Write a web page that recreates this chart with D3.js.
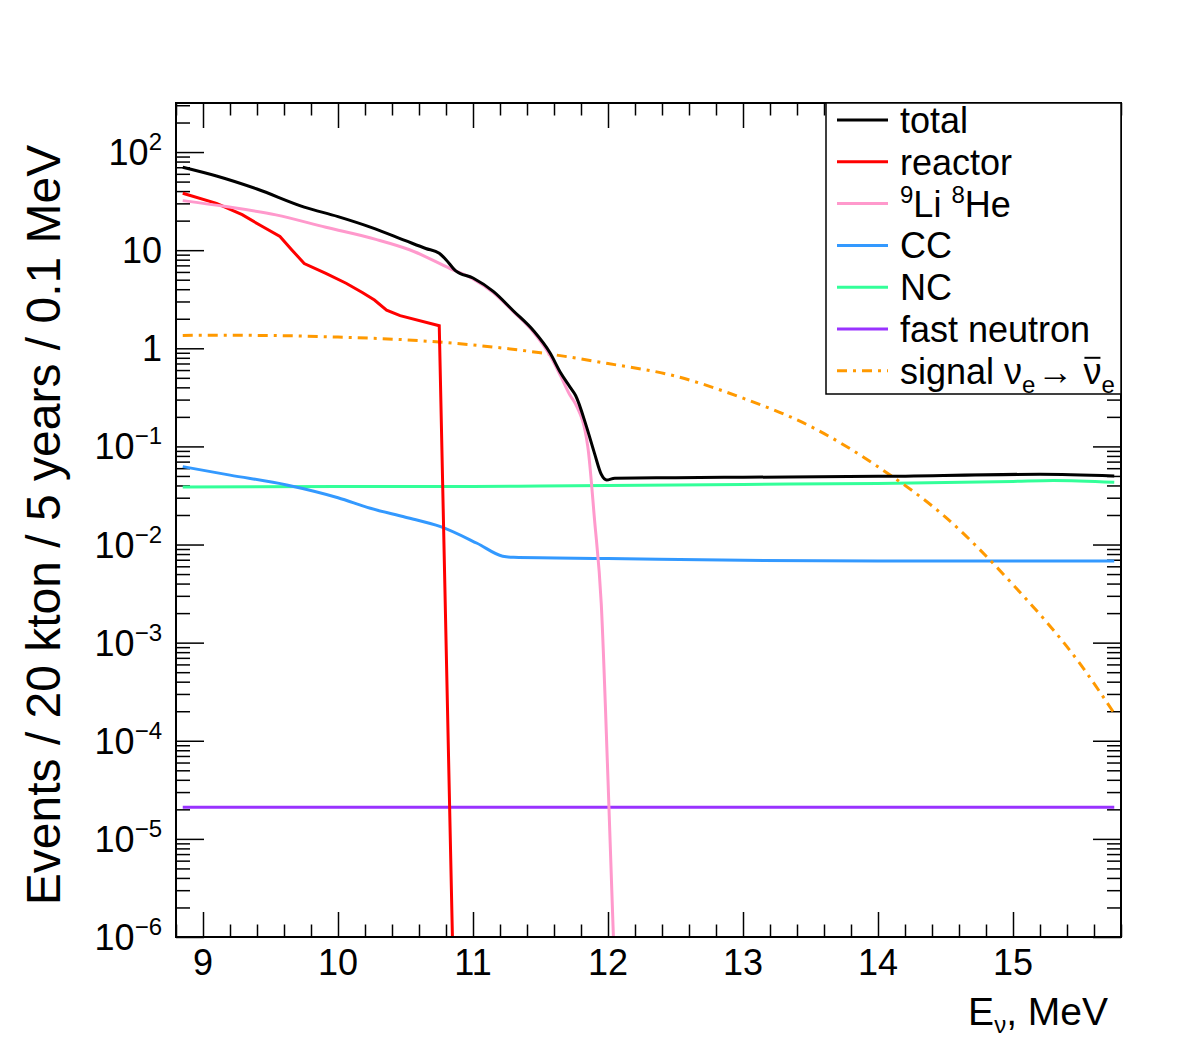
<!DOCTYPE html>
<html>
<head>
<meta charset="utf-8">
<script src="https://cdn.jsdelivr.net/npm/d3@7"></script>
<style>
  body { margin: 0; background: #fff; }
  text { font-family: "Liberation Sans", Arial, Helvetica, sans-serif; fill: #000; }
</style>
</head>
<body>
<div class="chart"></div>
<script>
// energy (MeV), events per bin
let total = [[8.85,70],[9.1,57],[9.4,42],[9.75,27.5],[10.0,22],[10.25,17],[10.5,12.5],[10.65,10.4],
  [10.75,9.3],[10.8,8.0],[10.87,6.2],[11.0,5.2],[11.15,3.8],[11.3,2.4],[11.45,1.5],[11.57,0.9],
  [11.65,0.56],[11.72,0.40],[11.76,0.33],[11.84,0.16],[11.9,0.085],[11.95,0.052],[11.99,0.0455],
  [12.05,0.0475],[12.5,0.048],[13.0,0.0485],[14.0,0.0495],[15.2,0.052],[15.75,0.050]]
let reactor = [[8.85,38],[9.1,30],[9.29,23],[9.44,17.4],[9.57,13.8],[9.66,10],[9.75,7.3],[9.91,5.8],
  [10.06,4.6],[10.18,3.7],[10.27,3.1],[10.36,2.45],[10.46,2.15],[10.75,1.7],[10.85,7e-7]]
let lihe = [[8.85,32],[9.17,27.8],[9.54,22.9],[9.91,17.1],[10.28,12.9],[10.53,10.1],[10.83,6.5],
  [11.0,5.1],[11.15,3.7],[11.3,2.35],[11.45,1.45],[11.57,0.85],[11.65,0.52],[11.72,0.33],[11.76,0.27],
  [11.85,0.1],[11.9,0.018],[11.95,2.5e-3],[12.0,4e-5],[12.05,4e-7]]
let cc = [[8.85,0.0622],[9.2,0.051],[9.62,0.0405],[10.0,0.030],[10.24,0.0234],[10.5,0.019],[10.76,0.0152],
  [11.03,0.0103],[11.22,0.0076],[11.3,0.0074],[12.0,0.0072],[13.0,0.0069],[14.0,0.0068],[15.75,0.0068]]
let nc = [[8.85,0.0385],[10.0,0.039],[11.0,0.039],[11.5,0.0395],[12.0,0.040],[13.0,0.041],[14.0,0.042],
  [15.0,0.044],[15.3,0.045],[15.75,0.043]]
let fastn = [[8.85,2.1e-5],[15.75,2.1e-5]]
let signal = [[8.85,1.35],[9.0,1.36],[9.5,1.35],[10.0,1.30],[10.5,1.22],[11.0,1.08],[11.5,0.90],[12.0,0.70],
  [12.5,0.52],[13.0,0.31],[13.5,0.16],[14.0,0.062],[14.5,0.019],[15.0,3.9e-3],[15.5,6.0e-4],[15.75,1.9e-4]]

let xMajor = [9, 10, 11, 12, 13, 14, 15]
let yDecades = [-6, -5, -4, -3, -2, -1, 0, 1, 2]
let yLabels = ['10|−6', '10|−5', '10|−4', '10|−3', '10|−2', '10|−1', '1', '10', '10|2']

let width = 1182
let height = 1044
let pLeft = 176, pRight = 1121, pTop = 103, pBottom = 937

let xScale = d3.scaleLinear().domain([8.8, 15.8]).range([pLeft, pRight])
let yScale = d3.scaleLog().domain([1e-6, 316.2]).range([pBottom, pTop])

let xMinor = d3.range(8.8, 15.81, 0.2).map(d => +d.toFixed(1)).filter(d => !xMajor.includes(d))
let yMajor = yDecades.map(e => Math.pow(10, e))
let yMinor = []
yDecades.forEach(e => {
  for (let k = 2; k <= 9; k++) {
    let v = k * Math.pow(10, e)
    if (v <= 316.2) yMinor.push(v)
  }
})

let svg = d3.select('.chart').append('svg')
  .attr('width', width).attr('height', height)

svg.append('defs').append('clipPath').attr('id', 'plotclip')
  .append('rect').attr('x', pLeft).attr('y', pTop).attr('width', pRight - pLeft).attr('height', pBottom - pTop)

// axes: ticks on all four sides, pointing inward
function tickAxis(axis, transform, w) {
  let g = svg.append('g').attr('transform', transform).call(axis)
  g.select('.domain').remove()
  g.selectAll('.tick line').attr('stroke', '#000').attr('stroke-width', w)
  g.selectAll('.tick text').remove()
}
tickAxis(d3.axisBottom(xScale).tickValues(xMajor).tickSize(-25), `translate(0,${pBottom})`, 1.5)
tickAxis(d3.axisBottom(xScale).tickValues(xMinor).tickSize(-12.5), `translate(0,${pBottom})`, 1.5)
tickAxis(d3.axisTop(xScale).tickValues(xMajor).tickSize(-25), `translate(0,${pTop})`, 1.5)
tickAxis(d3.axisTop(xScale).tickValues(xMinor).tickSize(-12.5), `translate(0,${pTop})`, 1.5)
tickAxis(d3.axisLeft(yScale).tickValues(yMajor).tickSize(-28), `translate(${pLeft},0)`, 1.5)
tickAxis(d3.axisLeft(yScale).tickValues(yMinor).tickSize(-14), `translate(${pLeft},0)`, 1.5)
tickAxis(d3.axisRight(yScale).tickValues(yMajor).tickSize(-28), `translate(${pRight},0)`, 1.5)
tickAxis(d3.axisRight(yScale).tickValues(yMinor).tickSize(-14), `translate(${pRight},0)`, 1.5)

// x tick labels
xMajor.forEach(d => {
  svg.append('text')
    .attr('x', xScale(d)).attr('y', 975)
    .attr('text-anchor', 'middle').attr('font-size', 36)
    .text(d)
})

// y tick labels
yDecades.forEach((e, i) => {
  let parts = yLabels[i].split('|')
  let t = svg.append('text')
    .attr('x', 162).attr('y', yScale(Math.pow(10, e)) + 13)
    .attr('text-anchor', 'end').attr('font-size', 36)
  t.append('tspan').text(parts[0])
  if (parts[1]) {
    t.append('tspan').attr('dy', -15).attr('font-size', 24).text(parts[1])
  }
})

// curves
let line = d3.line()
  .x(d => xScale(d[0]))
  .y(d => yScale(d[1]))

let plot = svg.append('g').attr('clip-path', 'url(#plotclip)')

let series = [
  { name: 'nc', data: nc, color: '#33ff99', curve: d3.curveMonotoneX },
  { name: 'cc', data: cc, color: '#3399ff', curve: d3.curveMonotoneX },
  { name: 'fast', data: fastn, color: '#9933ff', curve: d3.curveLinear },
  { name: 'signal', data: signal, color: '#ff9900', curve: d3.curveMonotoneX, dash: '10 6 3 6' },
  { name: 'reactor', data: reactor, color: '#ff0000', curve: d3.curveLinear },
  { name: 'lihe', data: lihe, color: '#ff99cc', curve: d3.curveMonotoneX },
  { name: 'total', data: total, color: '#000000', curve: d3.curveMonotoneX }
]
series.forEach(s => {
  plot.append('path')
    .attr('d', line.curve(s.curve)(s.data))
    .attr('fill', 'none')
    .attr('stroke', s.color)
    .attr('stroke-width', 3)
    .attr('stroke-dasharray', s.dash || null)
})

// frame
svg.append('rect')
  .attr('x', pLeft).attr('y', pTop).attr('width', pRight - pLeft).attr('height', pBottom - pTop)
  .attr('fill', 'none').attr('stroke', '#000').attr('stroke-width', 2)

// legend
let lg = svg.append('g')
lg.append('rect')
  .attr('x', 826).attr('y', pTop).attr('width', pRight - 826).attr('height', 291)
  .attr('fill', '#fff').attr('stroke', '#000').attr('stroke-width', 1.5)

let legendItems = [
  { color: '#000000' }, { color: '#ff0000' }, { color: '#ff99cc' }, { color: '#3399ff' },
  { color: '#33ff99' }, { color: '#9933ff' }, { color: '#ff9900', dash: '10 6 3 6' }
]
legendItems.forEach((it, i) => {
  let cy = 120 + i * 41.8
  lg.append('line')
    .attr('x1', 837).attr('x2', 888).attr('y1', cy).attr('y2', cy)
    .attr('stroke', it.color).attr('stroke-width', 3)
    .attr('stroke-dasharray', it.dash || null)
  let t = lg.append('text').attr('x', 900).attr('y', cy + 13).attr('font-size', 36)
  if (i === 0) t.text('total')
  if (i === 1) t.text('reactor')
  if (i === 2) {
    t.append('tspan').attr('font-size', 24).attr('dy', -14).text('9')
    t.append('tspan').attr('dy', 14).text('Li ')
    t.append('tspan').attr('font-size', 24).attr('dy', -14).text('8')
    t.append('tspan').attr('dy', 14).text('He')
  }
  if (i === 3) t.text('CC')
  if (i === 4) t.text('NC')
  if (i === 5) t.text('fast neutron')
  if (i === 6) {
    t.append('tspan').text('signal ν')
    t.append('tspan').attr('font-size', 24).attr('dy', 9).text('e')
    t.append('tspan').attr('dy', -9).attr('dx', 2).text('→ ')
    t.append('tspan').text('ν')
    t.append('tspan').attr('font-size', 24).attr('dy', 9).text('e')
    // bar over the second nu
    let ext = t.node().getExtentOfChar(11)
    lg.append('line')
      .attr('x1', ext.x + 1).attr('x2', ext.x + ext.width - 1)
      .attr('y1', cy + 13 - 26).attr('y2', cy + 13 - 26)
      .attr('stroke', '#000').attr('stroke-width', 2)
  }
})

// axis titles
let xt = svg.append('text')
  .attr('x', 1108).attr('y', 1025).attr('text-anchor', 'end').attr('font-size', 39)
xt.append('tspan').text('E')
xt.append('tspan').attr('font-size', 24).attr('dy', 8).text('ν')
xt.append('tspan').attr('dy', -8).text(', MeV')

svg.append('text')
  .attr('transform', 'translate(60,525) rotate(-90)')
  .attr('text-anchor', 'middle').attr('font-size', 48)
  .text('Events / 20 kton / 5 years / 0.1 MeV')
</script>
</body>
</html>
